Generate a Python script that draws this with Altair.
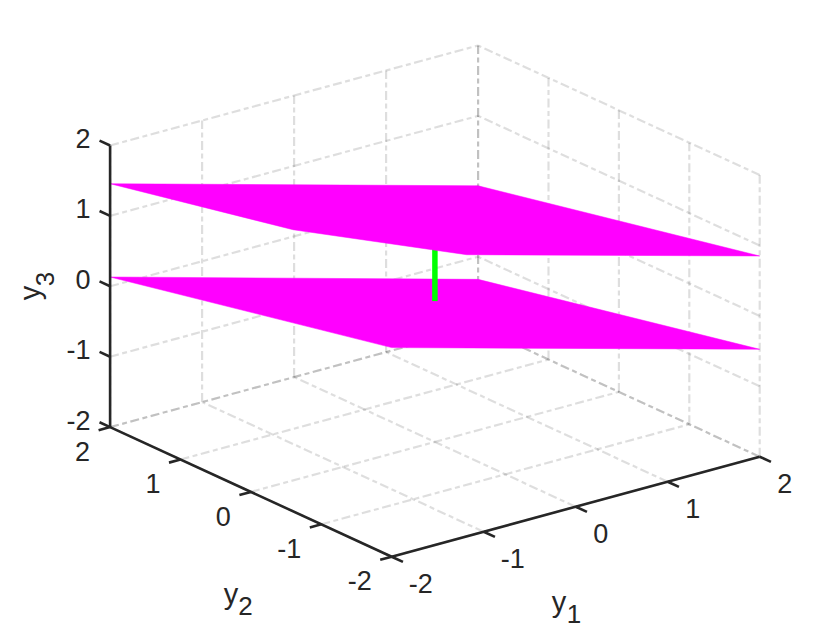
import altair as alt
import pandas as pd

# ---- data (3-D values) ----
ticks = [-2, -1, 0, 1, 2]
upper_plane = [(-2, 2, 1.457), (2, 2, 0.007), (2, -2, 0.851), (-1.185, -2, 2), (-2, -0.6, 2)]
lower_plane = [(-2, 2, 0.132), (2, 2, -1.322), (2, -2, -0.474), (-2, -2, 0.97)]
green_line = [(0, 0, 0), (0, 0, 1)]

LO, HI = -2, 2
TICK_Y1, TICK_Y2_X, TICK_Y3 = -2.16, -2.125, 2.15


def project(a, b, c):
    """Oblique view of the box onto page pixels."""
    return (391.7 + 92 * (a + 2) - 70.4 * (b + 2),
            556.7 - 25 * (a + 2) - 32.4 * (b + 2) - 70.4 * (c + 2))


def segs(pairs):
    rows = []
    for p, q in pairs:
        x, y = project(*p)
        x2, y2 = project(*q)
        rows.append(dict(x=x, y=y, x2=x2, y2=y2))
    return pd.DataFrame(rows)


def poly(verts):
    rows = []
    for i, v in enumerate(verts):
        x, y = project(*v)
        rows.append(dict(i=i, x=x, y=y))
    return pd.DataFrame(rows)


grid_pairs = []
for t in ticks:
    grid_pairs += [((t, LO, LO), (t, HI, LO)),   # floor, y1 = t
                   ((LO, t, LO), (HI, t, LO)),   # floor, y2 = t
                   ((t, HI, LO), (t, HI, HI)),   # back wall y2 = 2
                   ((HI, t, LO), (HI, t, HI)),   # back wall y1 = 2
                   ((LO, HI, t), (HI, HI, t)),   # y3 lines
                   ((HI, LO, t), (HI, HI, t))]

axis_pairs = [((LO, LO, LO), (HI, LO, LO)),
              ((LO, LO, LO), (LO, HI, LO)),
              ((LO, HI, LO), (LO, HI, HI))]
for t in ticks:
    axis_pairs += [((t, LO, LO), (t, TICK_Y1, LO)),
                   ((LO, t, LO), (TICK_Y2_X, t, LO)),
                   ((LO, HI, t), (LO, TICK_Y3, t))]

y1_labels, y2_labels, y3_labels = [], [], []
for t in ticks:
    px, py = project(t, LO, LO)
    y1_labels.append(dict(x=px + (29 if t < 0 else 25), y=py + 28.3, t=str(t)))
    px, py = project(LO, t, LO)
    y2_labels.append(dict(x=px - (32 if t < 0 else 27.6), y=py + 25.7, t=str(t)))
    px, py = project(LO, HI, t)
    y3_labels.append(dict(x=90.5, y=py - 5.5, t=str(t)))

X = alt.X("x:Q", scale=alt.Scale(domain=[8, 832]), axis=None)
Y = alt.Y("y:Q", scale=alt.Scale(domain=[630, 8]), axis=None)


def rules(df, **kw):
    return alt.Chart(df).mark_rule(**kw).encode(X, Y, x2="x2:Q", y2="y2:Q")


def fill(df):
    return alt.Chart(df).mark_line(interpolate="linear-closed", fill="#ff00ff", stroke="#ff00ff",
                                   strokeWidth=0.5).encode(X, Y, order="i:Q")


def text(rows, size, **kw):
    return alt.Chart(pd.DataFrame(rows)).mark_text(
        font="Liberation Sans", fontSize=size, color="#262626", baseline="middle", **kw
    ).encode(X, Y, text="t:N")


chart = alt.layer(
    rules(segs(grid_pairs), stroke="#000000", opacity=0.13, strokeWidth=2.2, strokeDash=[9, 3.5, 5, 3.5]),
    fill(poly(lower_plane)),
    rules(segs([tuple(green_line)]), stroke="#00ff00", strokeWidth=5.5),
    fill(poly(upper_plane)),
    rules(segs(axis_pairs), stroke="#262626", strokeWidth=2.6),
    text(y1_labels, 27, align="center"),
    text(y2_labels, 27, align="center"),
    text(y3_labels, 27, align="right"),
    text([dict(x=559, y=602.5, t="y")], 29, align="center"),
    text([dict(x=574, y=615, t="1")], 26, align="center"),
    text([dict(x=231, y=594.5, t="y")], 29, align="center"),
    text([dict(x=245.5, y=607, t="2")], 26, align="center"),
    text([dict(x=31, y=293, t="y")], 29, align="center", angle=270),
    text([dict(x=46, y=279, t="3")], 26, align="center", angle=270),
).properties(width=824, height=622, padding=0, background="white",
             autosize=alt.AutoSizeParams(type="none")).configure_view(stroke=None)

chart.save("out.html", embed_options={"renderer": "svg", "actions": False})
